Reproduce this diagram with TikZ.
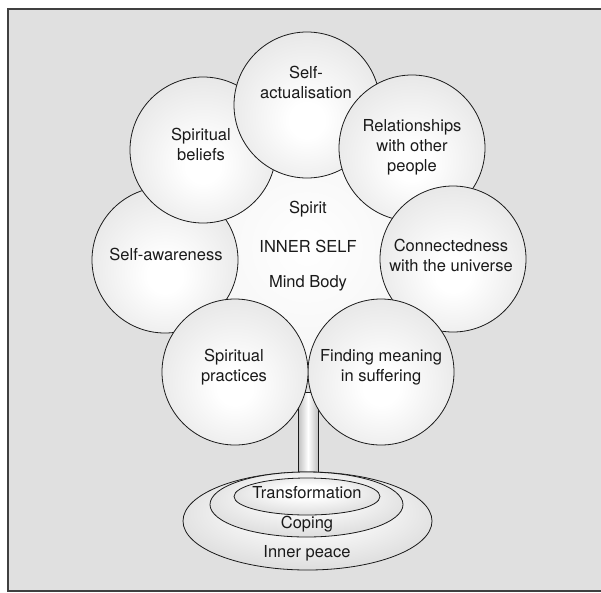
\documentclass[tikz,border=0pt]{standalone}
\usepackage{fontspec}
\setmainfont{TeX Gyre Heros}
\usetikzlibrary{shapes.geometric}
\pgfdeclareradialshading{bubble}{\pgfpoint{0bp}{-6bp}}{color(0bp)=(white); color(6bp)=(white); color(30bp)=(black!10); color(50bp)=(black!29)}
\pgfdeclareradialshading{innerglow}{\pgfpoint{0bp}{0bp}}{color(0bp)=(white); color(25bp)=(white!96!black); color(50bp)=(black!13)}
\pgfdeclareradialshading{disc}{\pgfpoint{0bp}{8bp}}{color(0bp)=(white); color(8bp)=(white); color(50bp)=(black!27)}
\definecolor{bgray}{HTML}{E0E0E0}
\definecolor{ink}{HTML}{1A1A1A}
\begin{document}
\begin{tikzpicture}[x=1pt,y=-1pt,
  ball/.style={circle, draw=ink, line width=0.8pt, minimum size=146pt, inner sep=0pt, shade, shading=bubble},
  lbl/.style={font=\fontsize{16.5}{20}\selectfont, text=ink, align=center, inner sep=0pt},
  ring/.style={ellipse, draw=ink, line width=0.8pt, inner sep=0pt, shade, shading=disc},
  trunkbox/.style={rectangle, draw=ink, line width=0.8pt, minimum width=20pt, minimum height=80pt, inner sep=0pt, left color=black!25, right color=black!25, middle color=white}
]
\useasboundingbox (0,0) rectangle (601,592);
% frame
\path[fill=bgray, draw=black!75, line width=2pt] (8,9) rectangle (604,590.5);
% inner glow
\node[circle, minimum size=250pt, inner sep=0pt, shade, shading=innerglow] (glow) at (307,247) {};
% trunk
\node[trunkbox] (trunk) at (308,432) {};
% circles
\node[ball] (aw) at (165,260) {};
\node[ball] (sb) at (203,150) {};
\node[ball] (sa) at (307,105) {};
\node[ball] (ro) at (412,148) {};
\node[ball] (cu) at (453,259) {};
\node[ball] (fm) at (381,372) {};
\node[ball] (sp) at (235,372) {};
% ellipses
\node[ring, minimum width=249pt, minimum height=98pt] (peace) at (307.5,521) {};
\node[ring, minimum width=193pt, minimum height=65pt] (coping) at (306.5,504.5) {};
\node[ring, minimum width=146pt, minimum height=37pt] (transf) at (307,496.5) {};
% texts
\node[lbl] (tsa) at (306,82) {Self-\\actualisation};
\node[lbl] (tsb) at (201,144) {Spiritual\\beliefs};
\node[lbl] (tro) at (412,147) {Relationships\\with other\\people};
\node[lbl] (taw) at (166,254) {Self-awareness};
\node[lbl] (tcu) at (451,255) {Connectedness\\with the universe};
\node[lbl] (tsp) at (234,367) {Spiritual\\practices};
\node[lbl] (tfm) at (381,367) {Finding meaning\\in suffering};
\node[lbl] (tspirit) at (308,209) {Spirit};
\node[lbl] (tinner) at (308,246) {INNER SELF};
\node[lbl] (tmind) at (308,283) {Mind Body};
\node[lbl] (ttr) at (307,493) {Transformation};
\node[lbl] (tco) at (307,524) {Coping};
\node[lbl] (tip) at (307,553) {Inner peace};
\end{tikzpicture}
\end{document}
